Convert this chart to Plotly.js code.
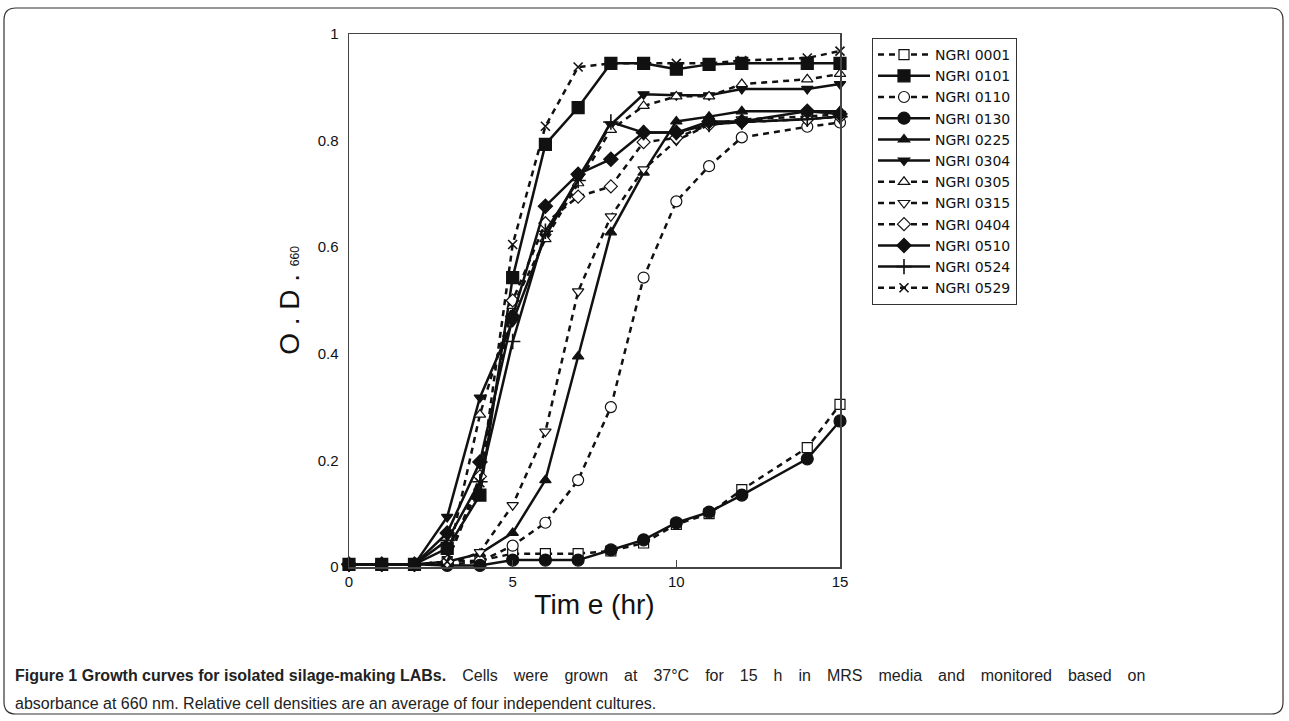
<!DOCTYPE html>
<html><head><meta charset="utf-8">
<script src="https://cdn.plot.ly/plotly-3.0.1.min.js"></script>
<style>html,body{margin:0;padding:0;background:#fff;}#chart{width:1289px;height:721px;}</style>
</head><body><div id="chart"></div>
<script>
const time = [0,1,2,3,4,5,6,7,8,9,10,11,12,14,15];
const strainNames = ["NGRI 0001","NGRI 0101","NGRI 0110","NGRI 0130","NGRI 0225","NGRI 0304","NGRI 0305","NGRI 0315","NGRI 0404","NGRI 0510","NGRI 0524","NGRI 0529"];
const n0001 = [0.005,0.005,0.005,0.01,0.012,0.025,0.025,0.025,0.03,0.045,0.08,0.10,0.145,0.224,0.305];
const n0101 = [0.005,0.005,0.005,0.035,0.135,0.543,0.793,0.862,0.945,0.945,0.934,0.943,0.945,0.945,0.945];
const n0110 = [0.005,0.005,0.005,0.004,0.01,0.04,0.083,0.163,0.30,0.543,0.686,0.752,0.806,0.826,0.834];
const n0130 = [0.005,0.005,0.005,0.003,0.003,0.013,0.013,0.013,0.032,0.051,0.083,0.103,0.135,0.203,0.274];
const n0225 = [0.005,0.005,0.005,0.01,0.025,0.064,0.163,0.395,0.628,0.74,0.836,0.845,0.855,0.855,0.855];
const n0304 = [0.005,0.005,0.005,0.094,0.318,0.46,0.62,0.73,0.83,0.887,0.885,0.885,0.897,0.897,0.906];
const n0305 = [0.005,0.005,0.005,0.01,0.286,0.49,0.615,0.72,0.82,0.865,0.883,0.883,0.906,0.915,0.925];
const n0315 = [0.005,0.005,0.005,0.004,0.028,0.116,0.254,0.517,0.658,0.746,0.80,0.83,0.84,0.845,0.85];
const n0404 = [0.005,0.005,0.005,0.01,0.17,0.50,0.645,0.695,0.714,0.797,0.805,0.83,0.835,0.84,0.845];
const n0510 = [0.005,0.005,0.005,0.064,0.197,0.47,0.677,0.737,0.765,0.815,0.815,0.836,0.836,0.855,0.85];
const n0524 = [0.005,0.005,0.005,0.05,0.16,0.423,0.63,0.725,0.835,0.815,0.815,0.83,0.835,0.84,0.845];
const n0529 = [0.005,0.005,0.005,0.01,0.158,0.605,0.827,0.938,0.945,0.945,0.945,0.945,0.95,0.955,0.968];
const xTickVals = [0,5,10,15];
const yTickVals = [0,0.2,0.4,0.6,0.8,1];
const yTickText = ["0","0.2","0.4","0.6","0.8","1"];
const captionBold = "Figure 1 Growth curves for isolated silage-making LABs.";
const captionLine1 = "Cells were grown at 37°C for 15 h in MRS media and monitored based on";
const captionLine2 = "absorbance at 660 nm. Relative cell densities are an average of four independent cultures.";

const series = [n0001,n0101,n0110,n0130,n0225,n0304,n0305,n0315,n0404,n0510,n0524,n0529];
const styles = [
  {dash:'dash', sym:'square', fill:'#fff', size:10},
  {dash:'solid', sym:'square', fill:'#111', size:12},
  {dash:'dash', sym:'circle', fill:'#fff', size:11},
  {dash:'solid', sym:'circle', fill:'#111', size:12},
  {dash:'solid', sym:'triangle-up', fill:'#111', size:10},
  {dash:'solid', sym:'triangle-down', fill:'#111', size:10},
  {dash:'dash', sym:'triangle-up', fill:'#fff', size:10},
  {dash:'dash', sym:'triangle-down', fill:'#fff', size:10},
  {dash:'dash', sym:'diamond', fill:'#fff', size:10},
  {dash:'solid', sym:'diamond', fill:'#111', size:11},
  {dash:'solid', sym:'cross-thin', fill:'#111', size:11},
  {dash:'dash', sym:'x-thin', fill:'#111', size:9}
];
const traces = series.map((ys,i)=>({
  type:'scatter', mode:'lines+markers', x:time, y:ys, name:strainNames[i],
  cliponaxis:false,
  line:{color:'#111', width:2.5, dash:styles[i].dash==='dash'?'6px,5px':'solid'},
  marker:{symbol:styles[i].sym, size:styles[i].size, color:styles[i].fill,
          line:{color:'#111', width:(styles[i].sym.indexOf('thin')>=0)?1.6:1.2}}
}));

const L=349, R=840, T=34, B=567;
const px2x = p => (p-L)/(R-L);
const px2y = p => (B-p)/(B-T);
const rr = (x0,y0,x1,y1,r) => {
  const X=px2x, Y=px2y;
  return `M ${X(x0+r)},${Y(y0)} L ${X(x1-r)},${Y(y0)} Q ${X(x1)},${Y(y0)} ${X(x1)},${Y(y0+r)} L ${X(x1)},${Y(y1-r)} Q ${X(x1)},${Y(y1)} ${X(x1-r)},${Y(y1)} L ${X(x0+r)},${Y(y1)} Q ${X(x0)},${Y(y1)} ${X(x0)},${Y(y1-r)} L ${X(x0)},${Y(y0+r)} Q ${X(x0)},${Y(y0)} ${X(x0+r)},${Y(y0)} Z`;
};
// justify the first caption line by widening its word gaps evenly
const gap = '&nbsp;&nbsp;&#8198; ';
const justified = captionLine1.split(' ').join(gap);

const axisFont = {family:'Liberation Sans, Arial, sans-serif', size:15, color:'#111'};
const layout = {
  width:1289, height:721,
  margin:{l:L, r:1289-R, t:T, b:721-B},
  paper_bgcolor:'#fff', plot_bgcolor:'#fff',
  showlegend:true,
  legend:{x:px2x(872), y:px2y(38), xanchor:'left', yanchor:'top',
          bordercolor:'#333', borderwidth:1, bgcolor:'#fff',
          font:{family:'DejaVu Sans, sans-serif', size:14, color:'#111'},
          itemwidth:52},
  xaxis:{range:[0,15], tickvals:xTickVals, ticktext:xTickVals.map(String),
         ticks:'inside', ticklen:7, tickcolor:'#444', showline:true, linecolor:'#444', linewidth:1.5,
         mirror:true, showgrid:false, zeroline:false, tickfont:axisFont,
         title:{text:'Tim e (hr)', font:{family:'Liberation Sans, Arial, sans-serif', size:28, color:'#111'}, standoff:6}},
  yaxis:{range:[0,1], tickvals:yTickVals, ticktext:yTickText,
         ticks:'inside', ticklen:0, showline:true, linecolor:'#444', linewidth:1.5,
         mirror:true, showgrid:false, zeroline:false, tickfont:axisFont, ticklabelstandoff:6,
         title:{text:'O . D . <span style="font-size:12px">660</span>', font:{family:'Liberation Sans, Arial, sans-serif', size:28, color:'#111'}, standoff:10}},
  shapes:[{type:'path', xref:'paper', yref:'paper', path:rr(4,8,1283,714,12), line:{color:'#333', width:1.2}, fillcolor:'rgba(0,0,0,0)', layer:'below'}],
  annotations:[
    {xref:'paper', yref:'paper', x:px2x(13), y:px2y(675), xanchor:'left', yanchor:'middle', showarrow:false, align:'left',
     text:'<b>'+captionBold+'</b>'+gap+justified, font:{family:'Liberation Sans, sans-serif', size:16, color:'#222'}},
    {xref:'paper', yref:'paper', x:px2x(13), y:px2y(703), xanchor:'left', yanchor:'middle', showarrow:false, align:'left',
     text:captionLine2, font:{family:'Liberation Sans, sans-serif', size:16, color:'#222'}}
  ]
};
Plotly.newPlot('chart', traces, layout, {displayModeBar:false, staticPlot:true});
</script></body></html>
